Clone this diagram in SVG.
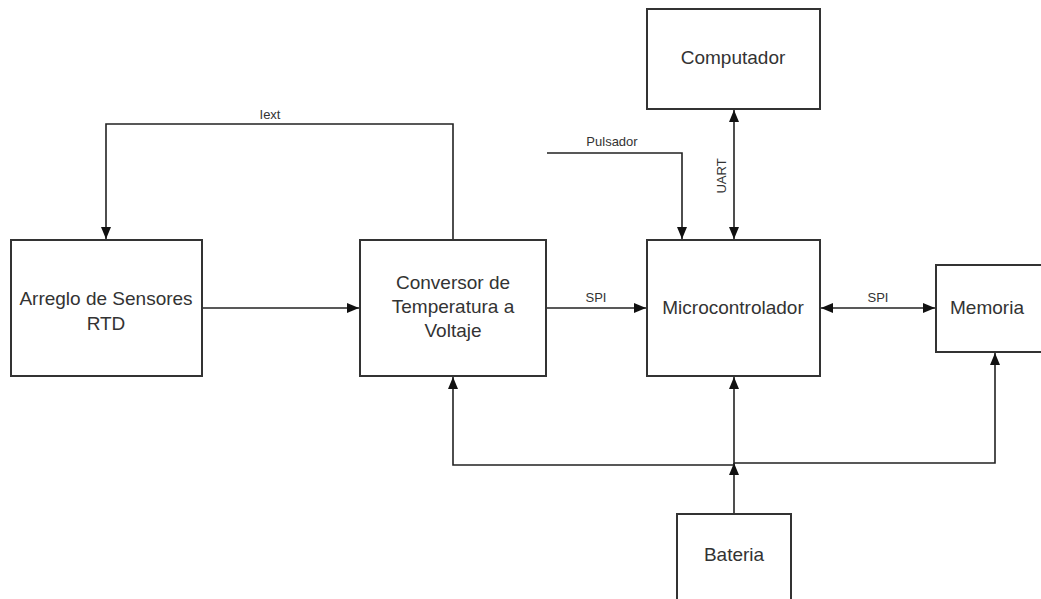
<svg xmlns="http://www.w3.org/2000/svg" width="1041" height="599" viewBox="0 0 1041 599">
<style>
.box{fill:#fff;stroke:#333;stroke-width:2}
.t{font-family:"Liberation Sans",Arial,sans-serif;font-size:19px;fill:#333;text-anchor:middle}
.l{font-family:"Liberation Sans",Arial,sans-serif;font-size:13px;fill:#333;text-anchor:middle}
.c{fill:none;stroke:#222;stroke-width:1.6}
</style>
<defs>
<marker id="ah" viewBox="0 0 12 10" refX="12" refY="5" markerWidth="12" markerHeight="10" markerUnits="userSpaceOnUse" orient="auto-start-reverse">
<path d="M0,0 L12,5 L0,10 Z" fill="#111"/>
</marker>
</defs>
<rect width="1041" height="599" fill="#fff"/>
<g id="connectors">
<path class="c" d="M202,308 H359" marker-end="url(#ah)"/>
<path class="c" d="M453,240 V124 H106 V239" marker-end="url(#ah)"/>
<text class="l" x="270" y="119">Iext</text>
<path class="c" d="M546,308 H646" marker-end="url(#ah)"/>
<text class="l" x="596" y="302">SPI</text>
<path class="c" d="M547,153 H682 V239" marker-end="url(#ah)"/>
<text class="l" x="612" y="146">Pulsador</text>
<path class="c" d="M734,110 V239" marker-start="url(#ah)" marker-end="url(#ah)"/>
<text class="l" transform="translate(726,176) rotate(-90)">UART</text>
<path class="c" d="M821,308 H935" marker-start="url(#ah)" marker-end="url(#ah)"/>
<text class="l" x="878" y="302">SPI</text>
<path class="c" d="M734,514 V463" marker-end="url(#ah)"/>
<path class="c" d="M734,465 V377" marker-end="url(#ah)"/>
<path class="c" d="M734,465 H453 V377" marker-end="url(#ah)"/>
<path class="c" d="M734,463 H995 V353" marker-end="url(#ah)"/>
</g>
<g id="arreglo">
<rect class="box" x="11" y="240" width="191" height="136"/>
<text class="t" x="106" y="305">Arreglo de Sensores</text>
<text class="t" x="106" y="330">RTD</text>
</g>
<g id="conversor">
<rect class="box" x="360" y="240" width="186" height="136"/>
<text class="t" x="453" y="289">Conversor de</text>
<text class="t" x="453" y="313">Temperatura a</text>
<text class="t" x="453" y="337">Voltaje</text>
</g>
<g id="microcontrolador">
<rect class="box" x="647" y="240" width="173" height="136"/>
<text class="t" x="733" y="314">Microcontrolador</text>
</g>
<g id="memoria">
<rect class="box" x="936" y="265" width="110" height="87"/>
<text class="t" x="987" y="314">Memoria</text>
</g>
<g id="computador">
<rect class="box" x="647" y="9" width="173" height="100"/>
<text class="t" x="733" y="64">Computador</text>
</g>
<g id="bateria">
<rect class="box" x="677" y="514" width="114" height="100"/>
<text class="t" x="734" y="561">Bateria</text>
</g>
</svg>
